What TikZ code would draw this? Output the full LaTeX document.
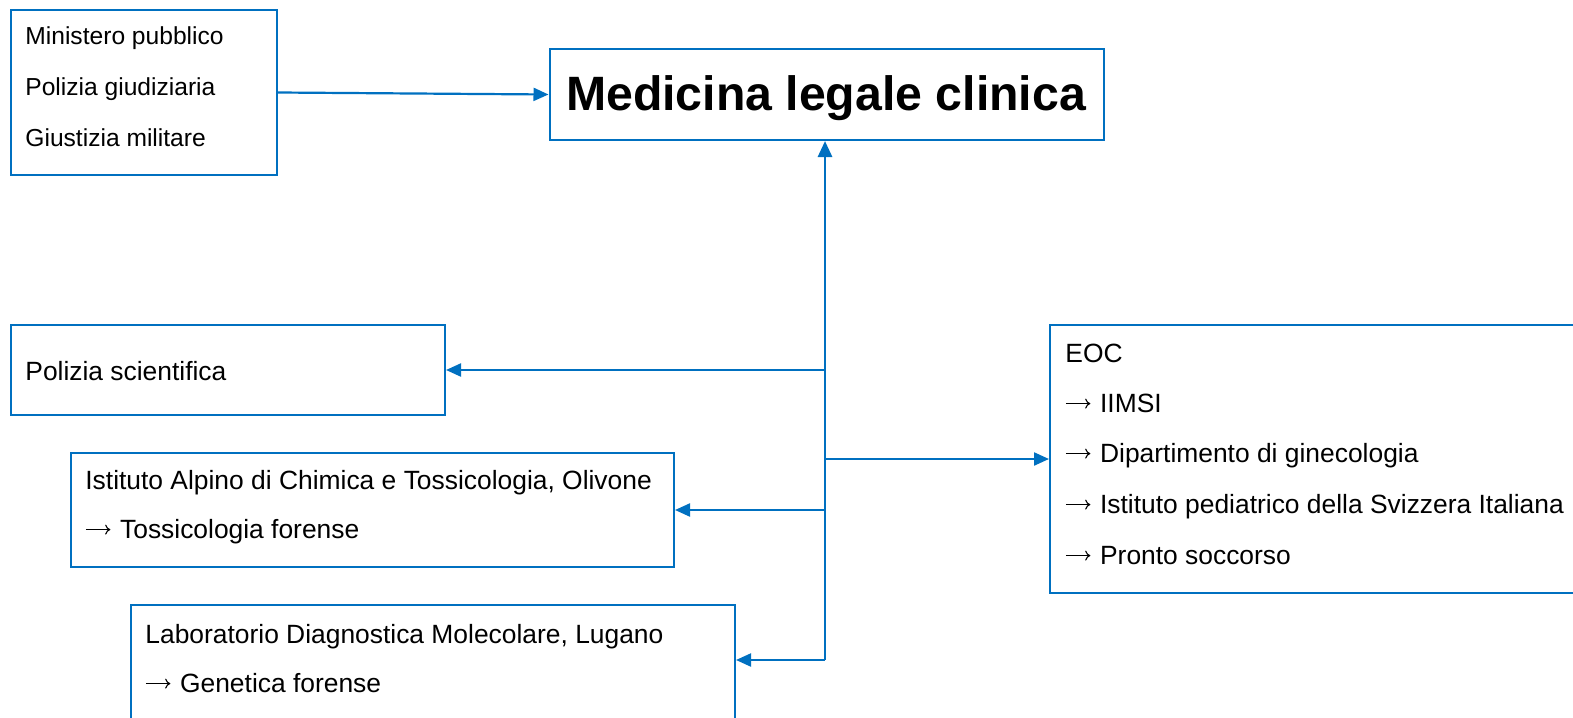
\documentclass[tikz,border=0pt]{standalone}
\usepackage{fontspec}
\setmainfont{Liberation Sans}
\usetikzlibrary{arrows.meta}
\definecolor{lineblue}{HTML}{0070C0}
\newcommand{\rarr}{\tikz[baseline=0pt,x=1pt,y=1pt]\draw[line width=0.55pt,-{To[length=2.6pt,width=5pt]}] (0.8,4.2) -- (13,4.2);\hspace{4.6pt}}
\tikzset{
  box/.style={draw=lineblue, line width=1pt, inner sep=0pt, anchor=north west},
  txt/.style={anchor=base west, inner sep=0pt, font=\fontsize{12.3pt}{14pt}\selectfont},
  txtb/.style={anchor=base west, inner sep=0pt, font=\fontsize{13.2pt}{15pt}\selectfont},
  conn/.style={draw=lineblue, line width=1.1pt, -{Triangle[length=7.5pt,width=6.5pt]}},
  trunkline/.style={draw=lineblue, line width=1.4pt, -{Triangle[length=8pt,width=7pt]}},
}
\begin{document}
\begin{tikzpicture}[x=0.5pt,y=-0.5pt]
\useasboundingbox (0,0) rectangle (1573,717);
\clip (0,0) rectangle (1573,717);
% boxes
\node[box, minimum width=277pt, minimum height=45.5pt] (M) at (548.5,48) {};
\node[box, minimum width=133pt, minimum height=82.5pt] (A) at (10,9) {};
\node[box, minimum width=217pt, minimum height=45pt] (P) at (10,324) {};
\node[box, minimum width=301.5pt, minimum height=57pt] (I) at (70,452) {};
\node[box, minimum width=302pt, minimum height=62pt] (L) at (130,604) {};
\node[box, minimum width=270pt, minimum height=134pt] (E) at (1049,324) {};
% texts
\node[txt] (a1) at (25,45) {Ministero pubblico};
\node[txt] (a2) at (25,96) {Polizia giudiziaria};
\node[txt] (a3) at (25,147) {Giustizia militare};
\node[anchor=base, inner sep=0pt, font=\fontsize{24.1pt}{28pt}\selectfont\bfseries] (mt) at (826,111) {Medicina legale clinica};
\node[txtb] (p1) at (25,380) {Polizia scientifica};
\node[txtb] (i1) at (85,489) {Istituto Alpino di Chimica e Tossicologia, Olivone};
\node[txtb] (i2) at (85,538) {\rarr Tossicologia forense};
\node[txtb] (l1) at (145,643) {Laboratorio Diagnostica Molecolare, Lugano};
\node[txtb] (l2) at (145,692) {\rarr Genetica forense};
\node[txtb] (e1) at (1065,362) {EOC};
\node[txtb] (e2) at (1065,412) {\rarr IIMSI};
\node[txtb] (e3) at (1065,462) {\rarr Dipartimento di ginecologia};
\node[txtb] (e4) at (1065,513) {\rarr Istituto pediatrico della Svizzera Italiana};
\node[txtb] (e5) at (1065,564) {\rarr Pronto soccorso};
% trunk coordinates
\coordinate (tb) at (825,660);
\coordinate (tp) at (825,370);
\coordinate (ti) at (825,510);
\coordinate (te) at (825,459);
% connectors
\draw[conn] (A.east) -- (M.west);
\draw[trunkline] (tb) -- (tb |- M.south);
\draw[conn] (tp) -- (tp -| P.east);
\draw[conn] (ti) -- (ti -| I.east);
\draw[conn] (tb) -- (tb -| L.east);
\draw[conn] (te) -- (te -| E.west);
\end{tikzpicture}
\end{document}
